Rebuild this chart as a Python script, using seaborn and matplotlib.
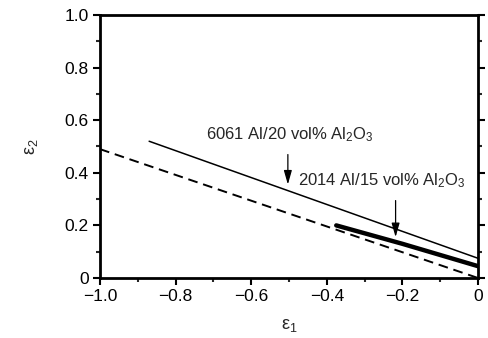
import numpy as np
import pandas as pd
import matplotlib
matplotlib.use("Agg")
import matplotlib.pyplot as plt
import seaborn as sns
from matplotlib.ticker import MultipleLocator, FixedLocator

sns.set_theme(style="ticks")
plt.rcParams['font.family'] = ['Liberation Sans', 'DejaVu Sans']
plt.rcParams['mathtext.fontset'] = 'custom'
plt.rcParams['mathtext.rm'] = 'Liberation Sans'
plt.rcParams['mathtext.it'] = 'Liberation Sans'

# Data
al6061_x = [-0.87, 0.0]
al6061_y = [0.52, 0.075]
al2014_x = [-0.375, -0.2, 0.0]
al2014_y = [0.20, 0.13, 0.045]
limit_x = [-1.0, 0.0]
limit_y = [0.49, 0.0]

xticks = [-1.0, -0.8, -0.6, -0.4, -0.2, 0.0]
xticklabels = ["\u22121.0", "\u22120.8", "\u22120.6", "\u22120.4", "\u22120.2", "0"]
yticks = [0, 0.2, 0.4, 0.6, 0.8, 1.0]
yticklabels = ["0", "0.2", "0.4", "0.6", "0.8", "1.0"]

fig = plt.figure(figsize=(4.88, 3.38), dpi=100)
ax = fig.add_axes([100/488, 1-278/338, 378/488, (278-15)/338])

d1 = pd.DataFrame({"x": al6061_x, "y": al6061_y})
d2 = pd.DataFrame({"x": al2014_x, "y": al2014_y})
d3 = pd.DataFrame({"x": limit_x, "y": limit_y})
sns.lineplot(data=d1, x="x", y="y", ax=ax, color="black", lw=1.1)
sns.lineplot(data=d2, x="x", y="y", ax=ax, color="black", lw=3.2)
sns.lineplot(data=d3, x="x", y="y", ax=ax, color="black", lw=1.4, linestyle=(0, (5, 3)))

ax.set_xlim(-1.0, 0.0)
ax.set_ylim(0, 1.0)
ax.xaxis.set_major_locator(FixedLocator(xticks))
ax.set_xticklabels(xticklabels)
ax.yaxis.set_major_locator(FixedLocator(yticks))
ax.set_yticklabels(yticklabels)
ax.xaxis.set_minor_locator(MultipleLocator(0.1))
ax.yaxis.set_minor_locator(MultipleLocator(0.1))
ax.tick_params(which='major', direction='out', length=5, width=1.5, labelsize=12.5, colors='black', pad=3)
ax.tick_params(which='minor', direction='out', length=3, width=1.5)
ax.tick_params(axis='y', which='both', right=True)
for s in ax.spines.values():
    s.set_visible(True)
    s.set_linewidth(2.0)
    s.set_color('black')

ax.set_xlabel("\u03b5$_1$", fontsize=13, labelpad=9)
ax.set_ylabel("\u03b5$_2$", fontsize=13, labelpad=18)

ax.text(-0.497, 0.545, "6061 Al/20 vol% Al$_2$O$_3$", ha='center', va='center', fontsize=12)
ax.text(-0.255, 0.37, "2014 Al/15 vol% Al$_2$O$_3$", ha='center', va='center', fontsize=12)
ax.annotate("", xy=(-0.503, 0.345), xytext=(-0.503, 0.48),
            arrowprops=dict(arrowstyle="-|>,head_length=0.7,head_width=0.2", color='black', lw=0.9))
ax.annotate("", xy=(-0.218, 0.145), xytext=(-0.218, 0.305),
            arrowprops=dict(arrowstyle="-|>,head_length=0.7,head_width=0.2", color='black', lw=0.9))

fig.savefig("out.png", dpi=100)
